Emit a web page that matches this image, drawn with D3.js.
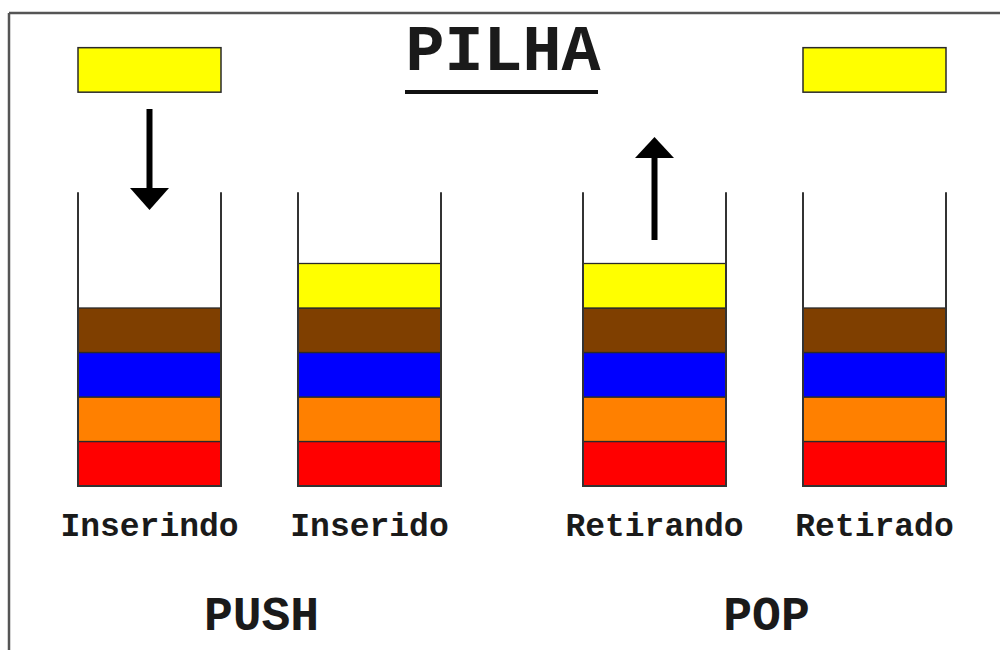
<!DOCTYPE html>
<html>
<head>
<meta charset="utf-8">
<script src="https://cdn.jsdelivr.net/npm/d3@7"></script>
<style>
  html, body { margin: 0; padding: 0; background: #fff; }
  svg { display: block; }
  text { font-family: "Courier New", "Liberation Mono", monospace; font-weight: bold; fill: #1a1a1a; }
</style>
</head>
<body>
<svg id="chart" width="1000" height="650"></svg>
<script>
// ---- data ----
const title = "PILHA";
const operations = ["PUSH", "POP"];
const stacks = ["Inserindo", "Inserido", "Retirando", "Retirado"];
const stackOperation = ["PUSH", "PUSH", "POP", "POP"];
const itemNames = ["Vermelho", "Laranja", "Azul", "Marrom", "Amarelo"];
const itemColors = ["#ff0000", "#ff8000", "#0000ff", "#7f3f00", "#ffff00"];
const stackContents = [
  ["Vermelho", "Laranja", "Azul", "Marrom"],
  ["Vermelho", "Laranja", "Azul", "Marrom", "Amarelo"],
  ["Vermelho", "Laranja", "Azul", "Marrom", "Amarelo"],
  ["Vermelho", "Laranja", "Azul", "Marrom"]
];
const floatingItems = [
  { stack: "Inserindo", item: "Amarelo" },
  { stack: "Retirado", item: "Amarelo" }
];
const arrows = [
  { stack: "Inserindo", direction: "down" },
  { stack: "Retirando", direction: "up" }
];
const stackCapacity = 6.6;

// ---- layout ----
const svg = d3.select("#chart");
const color = d3.scaleOrdinal().domain(itemNames).range(itemColors);

const opScale = d3.scaleBand().domain(operations).range([78, 1088]);
const inner = d3.scaleBand().domain([0, 1]).range([0, 363])
  .paddingInner(0.35).paddingOuter(0).align(0);
const stackX = s => {
  const i = stacks.indexOf(s);
  const op = stackOperation[i];
  const idx = stacks.filter((d, j) => stackOperation[j] === op).indexOf(s);
  return opScale(op) + inner(idx);
};
const bw = inner.bandwidth();
const y = d3.scaleLinear().domain([0, 5]).range([486, 263.5]);
const unit = y(0) - y(1);

// frame
svg.append("line").attr("x1", 9).attr("x2", 1000).attr("y1", 13).attr("y2", 13)
  .attr("stroke", "#555").attr("stroke-width", 2.5);
svg.append("line").attr("x1", 9).attr("x2", 9).attr("y1", 13).attr("y2", 650)
  .attr("stroke", "#555").attr("stroke-width", 2.5);

// title
svg.append("text").attr("x", 503).attr("y", 70).attr("text-anchor", "middle")
  .style("font-size", "65px").text(title);
svg.append("line").attr("x1", 405).attr("x2", 598).attr("y1", 92).attr("y2", 92)
  .attr("stroke", "#111").attr("stroke-width", 4);

// stacks
const g = svg.selectAll("g.stack").data(stacks).join("g").attr("class", "stack")
  .attr("transform", d => `translate(${stackX(d)},0)`);

g.selectAll("rect.item").data((d, i) => stackContents[i].map((c, k) => ({ c, k })))
  .join("rect").attr("class", "item")
  .attr("x", 0).attr("width", bw)
  .attr("y", d => y(d.k + 1)).attr("height", unit)
  .attr("fill", d => color(d.c))
  .attr("stroke", "#2a2a2a").attr("stroke-width", 1.3);

// walls
g.append("path")
  .attr("d", `M0,${y(stackCapacity)}V${y(0)}H${bw}V${y(stackCapacity)}`)
  .attr("fill", "none").attr("stroke", "#333").attr("stroke-width", 2);

// labels
g.append("text").attr("x", bw / 2).attr("y", 536).attr("text-anchor", "middle")
  .style("font-size", "33px").text(d => d);

// operations
svg.selectAll("text.op").data(operations).join("text").attr("class", "op")
  .attr("x", d => {
    const xs = stacks.filter((s, j) => stackOperation[j] === d).map(s => stackX(s) + bw / 2);
    return d3.mean(xs) + 2;
  })
  .attr("y", 630).attr("text-anchor", "middle")
  .style("font-size", "48px").text(d => d);

// floating items
svg.selectAll("rect.float").data(floatingItems).join("rect").attr("class", "float")
  .attr("x", d => stackX(d.stack)).attr("width", bw)
  .attr("y", y(9.85)).attr("height", unit)
  .attr("fill", d => color(d.item))
  .attr("stroke", "#2a2a2a").attr("stroke-width", 1.5);

// arrows
const arrowG = svg.selectAll("g.arrow").data(arrows).join("g").attr("class", "arrow")
  .attr("transform", d => `translate(${stackX(d.stack) + bw / 2},0)`);
arrowG.append("line")
  .attr("x1", 0).attr("x2", 0)
  .attr("y1", d => d.direction === "down" ? 109 : 240)
  .attr("y2", d => d.direction === "down" ? 192 : 155)
  .attr("stroke", "#000").attr("stroke-width", 6);
arrowG.append("path")
  .attr("d", d => d.direction === "down"
    ? "M-19.5,188L19.5,188L0,210Z"
    : "M-19.5,158L19.5,158L0,137Z")
  .attr("fill", "#000");
</script>
</body>
</html>
